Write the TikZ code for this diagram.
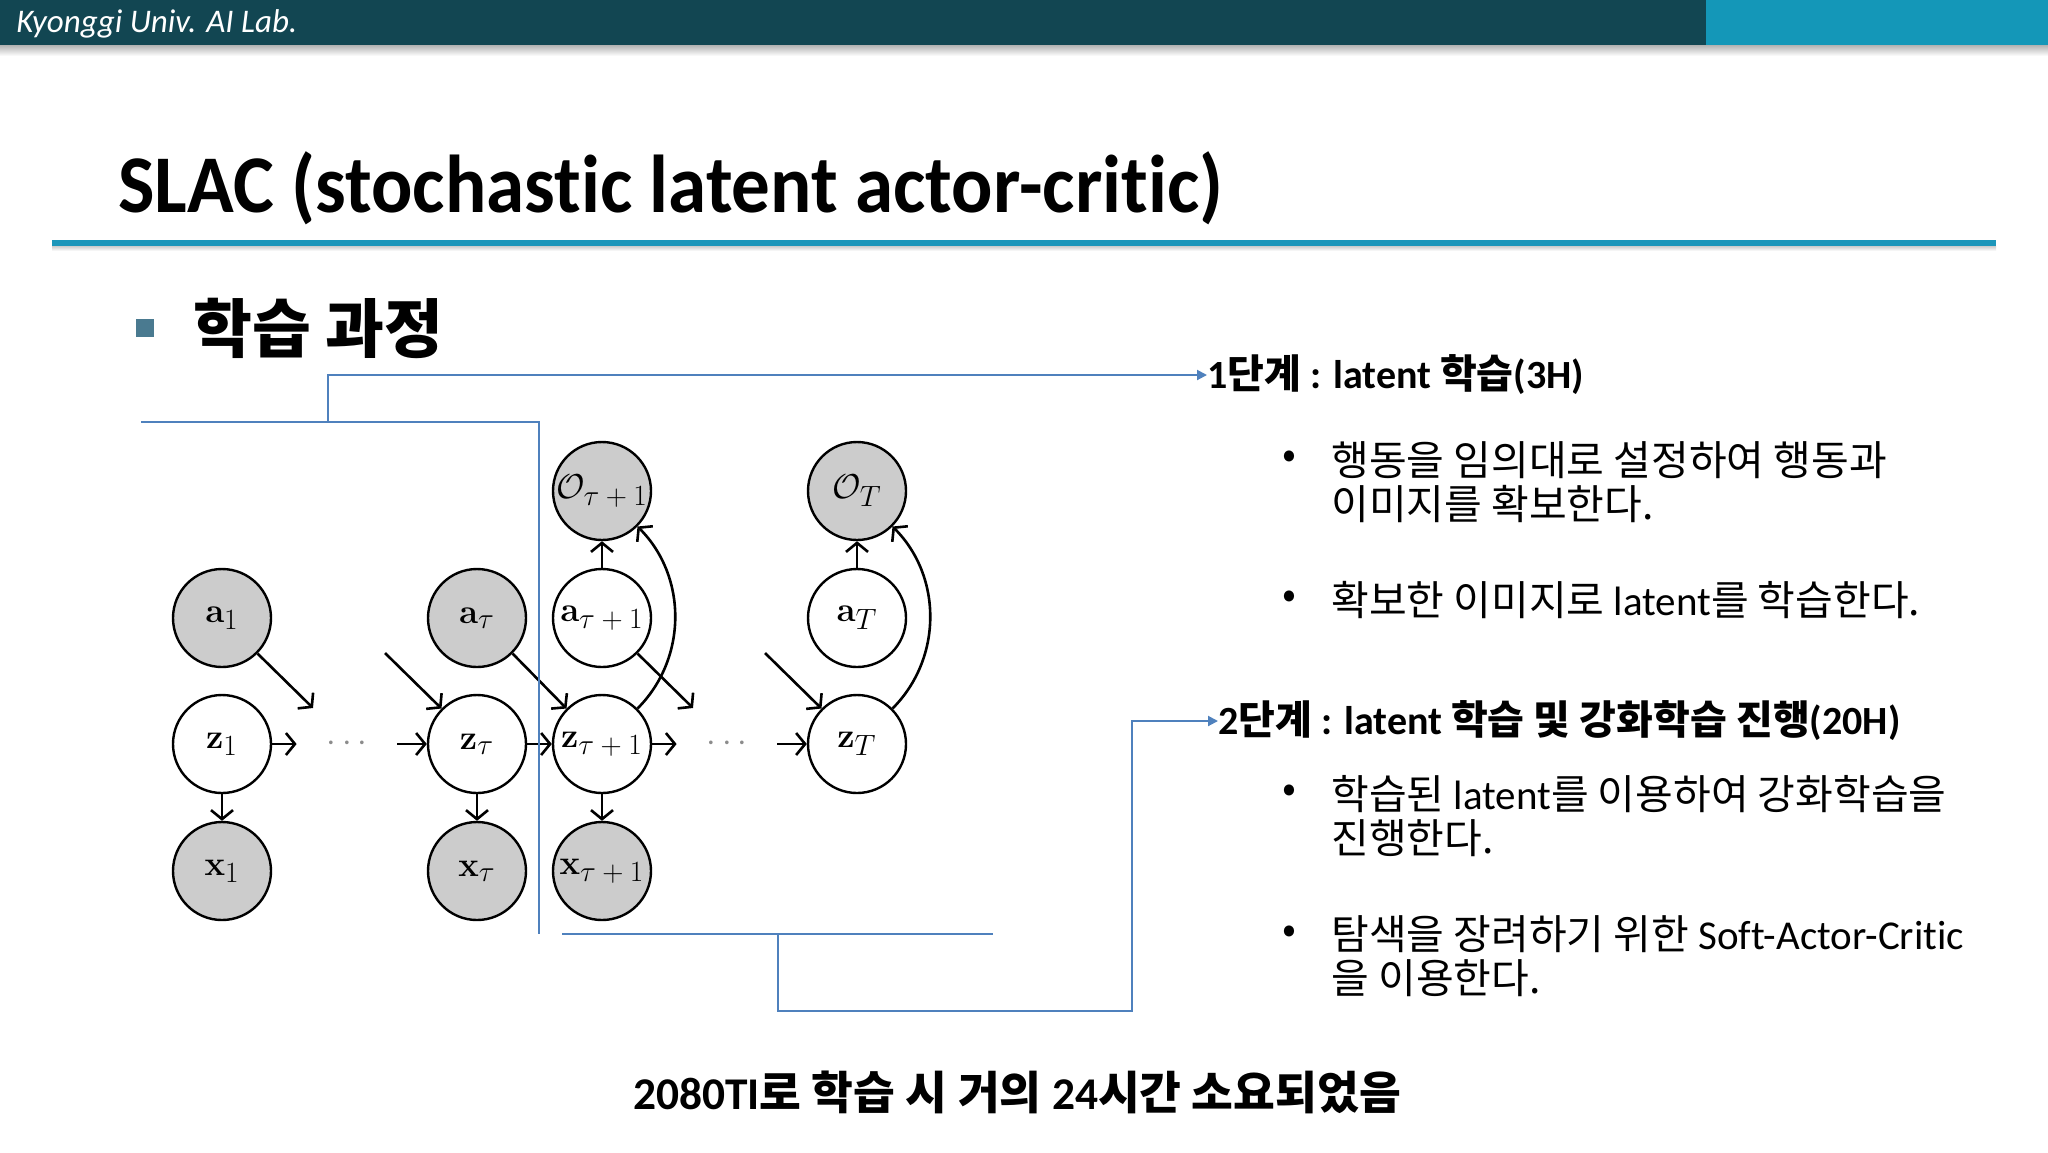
\documentclass[tikz,border=0pt]{standalone}
\usepackage[no-math]{fontspec}
\usepackage{graphicx}
\setmainfont[Ligatures=NoCommon]{Carlito}
\newfontfamily\kr{Noto Sans CJK KR}
\newfontfamily\titlefont[FakeStretch=0.94,Ligatures=NoCommon]{Carlito}
\usetikzlibrary{arrows.meta}
\definecolor{hdark}{RGB}{18,70,82}
\definecolor{hlight}{RGB}{20,151,184}
\definecolor{tline}{RGB}{28,150,186}
\definecolor{sqcol}{RGB}{74,122,144}
\definecolor{conncol}{RGB}{79,129,189}
\definecolor{obsfill}{RGB}{204,204,204}
\newcommand\lbl[2]{$\mathbf{#1}_{\scalebox{0.85}{$#2$}}$}
\newcommand\olbl[1]{$\mathcal{O}_{\scalebox{0.85}{$#1$}}$}
\tikzset{
  basecirc/.style={circle, draw=black, line width=1.2pt, minimum size=49pt, inner sep=0pt, font=\fontsize{18}{21}\selectfont},
  obs/.style={basecirc, fill=obsfill},
  lat/.style={basecirc, fill=white},
  dotsn/.style={minimum width=50pt, inner sep=0pt, text=black!45, font=\fontsize{17}{20}\selectfont},
  dg/.style={-{Straight Barb[length=4.5pt,width=11pt,line width=1.3pt]}, line width=1.3pt, black},
  conn/.style={draw=conncol, line width=1pt},
  connarrow/.style={conn, -{Triangle[length=5pt,width=5pt]}},
  txt/.style={inner sep=0pt, anchor=west, align=left},
  bodyfont/.style={font=\fontsize{20.5}{22}\selectfont},
  headfont/.style={font=\bfseries\fontsize{20}{24}\selectfont},
}
\begin{document}
\begin{tikzpicture}[x=0.5pt,y=-0.5pt]
\useasboundingbox (0,0) rectangle (2048,1152);
\fill[white] (0,0) rectangle (2048,1152);
% header
\fill[hdark] (0,0) rectangle (1706,45);
\fill[hlight] (1706,0) rectangle (2048,45);
\shade[top color=black!30, bottom color=white] (0,45) rectangle (2048,56);
\node[inner sep=0pt, anchor=west, text=white] (lab) at (16,24) {\itshape\fontsize{16.5}{19}\selectfont Kyonggi Univ. AI Lab.};
% title
\node[inner sep=0pt, anchor=base west] (title) at (118,212) {\titlefont\bfseries\fontsize{41}{48}\selectfont SLAC (stochastic latent actor-critic)};
\fill[tline] (52,240) rectangle (1996,246);
\shade[top color=black!20, bottom color=white] (52,246) rectangle (1996,251);
% section
\node[fill=sqcol, minimum size=9pt, inner sep=0pt] (sq) at (145,328) {};
\node[txt] (sec) at (193,328) {\kr\bfseries\fontsize{32}{36}\selectfont 학습 과정};

% graphical model
\node[obs] (a1) at (222,618) {\lbl{a}{1}};
\node[obs] (at) at (477,618) {\lbl{a}{\tau}};
\node[lat] (at1) at (602,618) {\lbl{a}{\tau+1}};
\node[lat] (aT) at (857,618) {\lbl{a}{T}};
\node[lat] (z1) at (222,744) {\lbl{z}{1}};
\node[lat] (zt) at (477,744) {\lbl{z}{\tau}};
\node[lat] (zt1) at (602,744) {\lbl{z}{\tau+1}};
\node[lat] (zT) at (857,744) {\lbl{z}{T}};
\node[obs] (x1) at (222,871) {\lbl{x}{1}};
\node[obs] (xt) at (477,871) {\lbl{x}{\tau}};
\node[obs] (xt1) at (602,871) {\lbl{x}{\tau+1}};
\node[obs] (ot1) at (602,491) {\olbl{\tau+1}};
\node[obs] (oT) at (857,491) {\olbl{T}};
\node[dotsn] (d1) at (347,744) {$\cdots$};
\node[dotsn] (d2) at (727,744) {$\cdots$};
\coordinate (e1) at (313,708);
\coordinate (s2) at (385,653);
\coordinate (e3) at (693,708);
\coordinate (s4) at (765,653);

\draw[dg] (a1.south east) -- (e1);
\draw[dg] (s2) -- (zt.north west);
\draw[dg] (at.south east) -- (zt1.north west);
\draw[dg] (at1.south east) -- (e3);
\draw[dg] (s4) -- (zT.north west);
\draw[dg] (z1) -- (d1);
\draw[dg] (d1) -- (zt);
\draw[dg] (zt) -- (zt1);
\draw[dg] (zt1) -- (d2);
\draw[dg] (d2) -- (zT);
\draw[dg] (z1) -- (x1);
\draw[dg] (zt) -- (xt);
\draw[dg] (zt1) -- (xt1);
\draw[dg] (at1) -- (ot1);
\draw[dg] (aT) -- (oT);
\draw[dg] (zt1.north east) .. controls +(50,-50) and +(50,50) .. (ot1.south east);
\draw[dg] (zT.north east) .. controls +(50,-50) and +(50,50) .. (oT.south east);

% text on the right
\node[txt, headfont] (h1) at (1207,375) {1{\kr 단계} : latent {\kr 학습}(3H)};
\node[txt, bodyfont] (p1) at (1282,460) {{\kr •}};
\node[txt, bodyfont] (t1) at (1331,482) {{\kr 행동을 임의대로 설정하여 행동과}\\{\kr 이미지를 확보한다.}};
\node[txt, bodyfont] (p2) at (1282,600) {{\kr •}};
\node[txt, bodyfont] (t2) at (1331,600) {{\kr 확보한 이미지로 }latent{\kr 를 학습한다.}};
\node[txt, headfont] (h2) at (1218,721) {2{\kr 단계} : latent {\kr 학습 및 강화학습 진행}(20H)};
\node[txt, bodyfont] (p3) at (1282,794) {{\kr •}};
\node[txt, bodyfont] (t3) at (1331,816) {{\kr 학습된 }latent{\kr 를 이용하여 강화학습을}\\{\kr 진행한다.}};
\node[txt, bodyfont] (p4) at (1282,935) {{\kr •}};
\node[txt, bodyfont] (t4) at (1331,956) {{\kr 탐색을 장려하기 위한 }Soft-Actor-Critic\\{\kr 을 이용한다.}};

% bottom note
\node[inner sep=0pt, font=\bfseries\fontsize{22.7}{26}\selectfont] (note) at (1017,1092) {2080TI{\kr 로 학습 시 거의 }24{\kr 시간 소요되었음}};

% connectors
\coordinate (c1a) at (141,422);
\coordinate (c1c) at (539,422);
\coordinate (c1b) at (539,934);
\coordinate (c1s) at (328,422);
\draw[conn] (c1a) -- (c1c) -- (c1b);
\draw[connarrow] (c1s) |- (h1.west);
\coordinate (c2a) at (562,934);
\coordinate (c2b) at (993,934);
\coordinate (c2s) at (778,934);
\coordinate (c2d) at (778,1011);
\coordinate (c2e) at (1132,1011);
\draw[conn] (c2a) -- (c2b);
\draw[connarrow] (c2s) -- (c2d) -- (c2e) |- (h2.west);
\end{tikzpicture}
\end{document}
